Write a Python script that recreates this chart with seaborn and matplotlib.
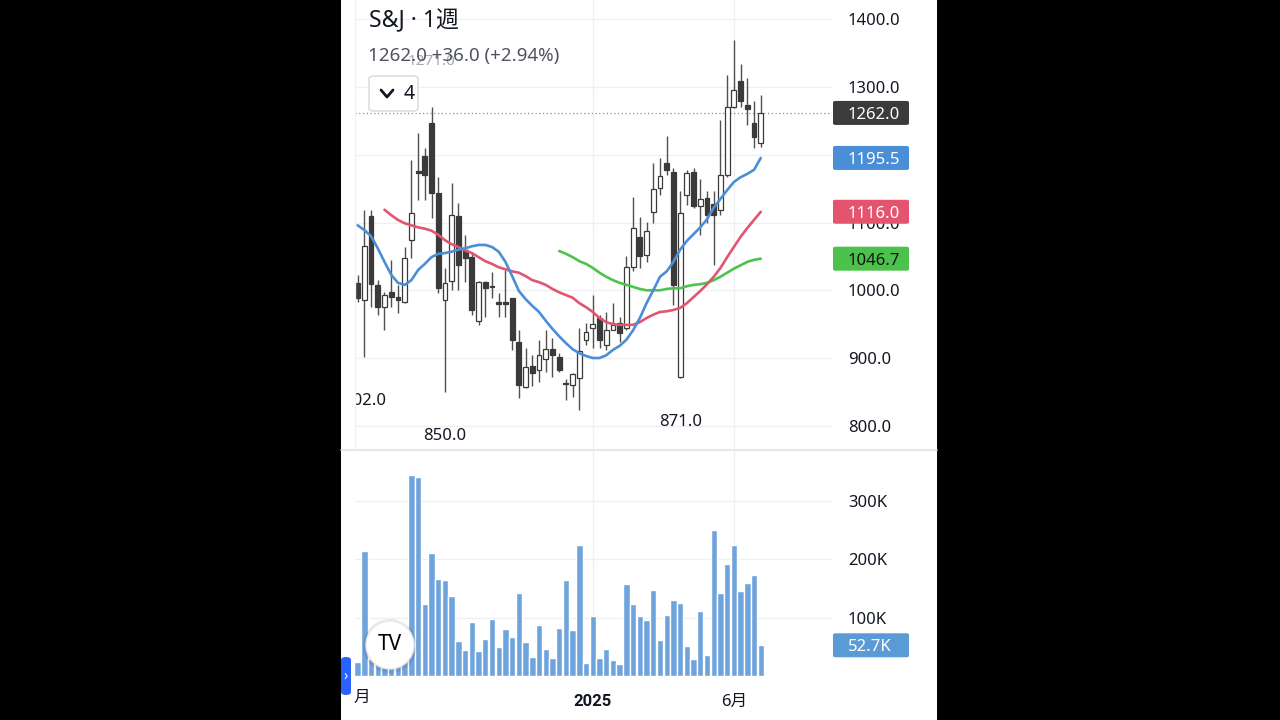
import numpy as np
import pandas as pd
import matplotlib.pyplot as plt
import matplotlib.patches as mpatches
from matplotlib.lines import Line2D
import seaborn as sns

# weekly candles (price in yen)
weeks = np.arange(1, 62)
opens = [1011, 986, 1110, 1008, 976, 998, 990, 983, 1074, 1176, 1198, 1247, 1144, 985, 1014, 1110,
         1060, 1049, 954, 1013, 1005, 982, 983, 989, 924, 857, 888, 882, 898, 914, 901, 862,
         860, 870, 926, 945, 959, 919, 942, 952, 944, 1035, 1078, 1052, 1115, 1151, 1188, 1175,
         872, 1141, 1175, 1124, 1137, 1127, 1119, 1170, 1271, 1309, 1273, 1247, 1217]
highs = [1023, 1119, 1119, 1015, 998, 1045, 1008, 1064, 1192, 1232, 1210, 1271, 1168, 1033, 1158, 1129,
         1082, 1055, 1014, 1014, 1027, 996, 1030, 989, 941, 915, 905, 927, 941, 929, 907, 869,
         878, 944, 952, 993, 964, 968, 981, 961, 1050, 1138, 1109, 1101, 1188, 1195, 1228, 1180,
         1146, 1178, 1181, 1165, 1146, 1146, 1252, 1318, 1370, 1335, 1313, 1279, 1288]
lows = [983, 902, 976, 964, 941, 976, 967, 981, 1048, 1133, 1133, 1107, 996, 850, 1000, 1000,
        1013, 964, 949, 961, 989, 961, 961, 912, 841, 855, 858, 865, 880, 872, 880, 838,
        843, 823, 919, 915, 915, 912, 941, 924, 941, 1028, 1033, 1042, 1099, 1141, 1170, 978,
        871, 1126, 1121, 1082, 1099, 1037, 1111, 1168, 1269, 1271, 1244, 1210, 1212]
closes = [989, 1066, 1009, 976, 993, 990, 985, 1048, 1114, 1174, 1170, 1144, 1003, 1011, 1111, 1037,
          1048, 971, 1013, 1003, 1007, 980, 980, 927, 860, 887, 878, 905, 914, 905, 882, 861,
          876, 911, 939, 950, 927, 941, 949, 937, 1035, 1092, 1050, 1087, 1149, 1169, 1177, 1008,
          1114, 1173, 1124, 1135, 1111, 1111, 1170, 1271, 1296, 1279, 1268, 1226, 1262]

# volume in thousands
volume_k = [24, 214, 30, 42, 38, 50, 35, 55, 344, 341, 124, 211, 167, 165, 137, 60,
            45, 92, 43, 63, 97, 50, 81, 67, 142, 58, 32, 87, 46, 31, 82, 165,
            79, 224, 23, 103, 31, 46, 27, 20, 158, 124, 103, 96, 147, 62, 105, 130,
            125, 51, 29, 112, 36, 250, 142, 192, 224, 145, 160, 174, 52.7]

# moving averages (13 / 26 / 52 weeks)
ma13 = [1096, 1089, 1080, 1062, 1042, 1023, 1011, 1008, 1015, 1030, 1039, 1049, 1054, 1055, 1057, 1060,
        1062, 1065, 1067, 1067, 1064, 1057, 1042, 1021, 999, 987, 977, 968, 955, 943, 932, 922,
        913, 907, 903, 900, 900, 904, 912, 918, 927, 941, 959, 981, 1000, 1020, 1028, 1042,
        1060, 1073, 1083, 1093, 1105, 1122, 1135, 1148, 1160, 1167, 1172, 1178, 1195.5]
ma26 = [None] * 4 + [1119, 1111, 1104, 1099, 1096, 1093, 1091, 1088, 1082, 1074, 1068, 1064,
                     1059, 1055, 1049, 1043, 1039, 1034, 1031, 1028, 1026, 1021, 1015, 1012,
                     1008, 1002, 997, 993, 989, 981, 975, 968, 959, 953, 950, 949,
                     949, 949, 953, 959, 964, 968, 969, 971, 974, 981, 990, 999,
                     1009, 1020, 1033, 1049, 1064, 1079, 1092, 1104, 1116]
ma52 = [None] * 30 + [1058, 1054, 1049, 1043, 1039, 1033, 1026, 1020, 1015, 1011, 1008, 1005,
                      1002, 1000, 1000, 1000, 1002, 1003, 1003, 1006, 1008, 1009, 1011, 1015,
                      1020, 1026, 1032, 1037, 1042, 1045, 1046.7]

price_ticks = [800, 900, 1000, 1100, 1200, 1300, 1400]
vol_ticks = [100, 200, 300]
vol_tick_labels = ['100K', '200K', '300K']
x_ticks = [36, 57]
x_tick_labels = ['2025', '6月']

last_close, prev_close = closes[-1], closes[-2]

df = pd.DataFrame({'week': weeks, 'open': opens, 'high': highs, 'low': lows, 'close': closes,
                   'vol': volume_k, 'ma13': ma13, 'ma26': ma26, 'ma52': ma52})
df[['ma26', 'ma52']] = df[['ma26', 'ma52']].astype(float)

sns.set_theme(style='white')
plt.rcParams['font.family'] = ['Noto Sans', 'Noto Sans CJK JP', 'DejaVu Sans']

W, H = 1280, 720
fig = plt.figure(figsize=(12.8, 7.2), dpi=100, facecolor='black')


def fx(px):
    return px / W


def fy(py):
    return 1 - py / H


# white phone screen
fig.add_artist(mpatches.Rectangle((fx(341), 0), fx(937) - fx(341), 1, transform=fig.transFigure,
                                  facecolor='white', edgecolor='none', zorder=-5))

ax = fig.add_axes([fx(355), fy(449), fx(832) - fx(355), 449 / H])
axv = fig.add_axes([fx(355), fy(676), fx(832) - fx(355), (676 - 451) / H])
TXT = '#131722'
GRID = '#eef0f4'

# candles
up = df['close'] >= df['open']
body_lo = np.minimum(df['open'], df['close'])
body_h = np.maximum(np.abs(df['close'] - df['open']), 1.5)
ax.vlines(df['week'], df['low'], df['high'], color='#505050', lw=1.0, zorder=2)
ax.bar(df['week'], body_h, bottom=body_lo, width=0.72,
       color=np.where(up, 'white', '#3a3a3a'), edgecolor='#3a3a3a', linewidth=0.9, zorder=3)

# moving averages
for col, c in [('ma52', '#4cc44c'), ('ma26', '#e2556f'), ('ma13', '#4a8fd6')]:
    sns.lineplot(data=df.dropna(subset=[col]), x='week', y=col, color=c, lw=1.9, ax=ax, zorder=4)

ax.axhline(last_close, color='#8a8d96', lw=0.9, ls=(0, (1, 2)), zorder=1)
ax.set_xlim(0.61, 71.6)
ax.set_ylim(765.6, 1428.8)
ax.set_yticks(price_ticks)
ax.set_yticklabels([f'{t:.1f}' for t in price_ticks])
ax.yaxis.tick_right()
ax.tick_params(axis='y', length=0, pad=11.5, labelsize=12, labelcolor=TXT)
ax.set_xticks(x_ticks)
ax.tick_params(axis='x', length=0, labelbottom=False)
ax.grid(True, color=GRID, lw=1)
ax.set_xlabel('')
ax.set_ylabel('')
for s in ax.spines.values():
    s.set_visible(False)

# high / low markers
ax.text(2, 836, '902.0', ha='center', va='center', fontsize=12, color=TXT, clip_on=True)
ax.text(14, 785, '850.0', ha='center', va='center', fontsize=12, color=TXT)
ax.text(49, 805.5, '871.0', ha='center', va='center', fontsize=12, color=TXT)
ax.text(12, 1338, '1271.0', ha='center', va='center', fontsize=11, color='#9598a1', alpha=0.85)

# volume
sns.barplot(x=df['week'], y=df['vol'], native_scale=True, color='#6fa3dc', saturation=1,
            width=0.95, errorbar=None, ax=axv)
axv.set_xlim(0.61, 71.6)
axv.set_ylim(0, 386)
axv.set_yticks(vol_ticks)
axv.set_yticklabels(vol_tick_labels)
axv.yaxis.tick_right()
axv.tick_params(axis='y', length=0, pad=11.5, labelsize=12, labelcolor=TXT)
axv.set_xticks(x_ticks)
axv.set_xticklabels(x_tick_labels)
axv.tick_params(axis='x', length=0, pad=13, labelsize=12, labelcolor=TXT)
for lab in axv.get_xticklabels():
    if lab.get_text() == '2025':
        lab.set_fontweight('bold')
        lab.set_fontfamily(['Roboto', 'DejaVu Sans'])
axv.grid(True, color=GRID, lw=1)
axv.set_xlabel('')
axv.set_ylabel('')
for s in axv.spines.values():
    s.set_visible(False)
fig.text(fx(362), fy(698), '月', ha='center', va='center', fontsize=12, color=TXT)

# pane separator
fig.add_artist(Line2D([fx(341), fx(937)], [fy(449.5), fy(449.5)], color='#e0e3eb', lw=1.2,
                      transform=fig.transFigure))
fig.add_artist(Line2D([fx(355), fx(355)], [fy(449), 1], color='#f2f3f6', lw=1,
                      transform=fig.transFigure))

# value tags on the right scale
inv = fig.transFigure.inverted()


def tag(axis, value, label, fc, tc='white'):
    yf = inv.transform(axis.transData.transform((0, value)))[1]
    h = 24 / H
    fig.add_artist(mpatches.FancyBboxPatch((fx(833), yf - h / 2), fx(909) - fx(833), h,
                                           boxstyle='round,pad=0,rounding_size=0.002',
                                           transform=fig.transFigure, facecolor=fc,
                                           edgecolor='none', zorder=5))
    fig.text(fx(848), yf, label, ha='left', va='center_baseline', fontsize=12, color=tc, zorder=6)


tag(ax, last_close, f'{last_close:.1f}', '#3b3b3b')
tag(ax, ma13[-1], f'{ma13[-1]:.1f}', '#4a8fd6')
tag(ax, ma26[-1], f'{ma26[-1]:.1f}', '#e5546f')
tag(ax, ma52[-1], f'{ma52[-1]:.1f}', '#4cc24c', '#111111')
tag(axv, volume_k[-1], f'{volume_k[-1]:.1f}K', '#5b9bd5')

# header
chg = last_close - prev_close
fig.text(fx(369), fy(21), 'S&J · 1週', ha='left', va='center', fontsize=16.5, color=TXT)
fig.text(fx(368), fy(56), f'{last_close:.1f} +{chg:.1f} (+{chg / prev_close * 100:.2f}%)',
         ha='left', va='center', fontsize=13.5, color='#50535e')
fig.add_artist(mpatches.FancyBboxPatch((fx(369), fy(111)), fx(418) - fx(369), 35 / H,
                                       boxstyle='round,pad=0,rounding_size=0.004',
                                       transform=fig.transFigure, facecolor='white',
                                       edgecolor='#d6d8de', lw=1, zorder=5))
fig.add_artist(Line2D([fx(381), fx(387), fx(393)], [fy(90), fy(97), fy(90)], color=TXT, lw=2,
                      transform=fig.transFigure, zorder=6))
fig.text(fx(404), fy(94), '4', ha='left', va='center', fontsize=14, color=TXT, zorder=6)

# TradingView badge and side tab
fig.add_artist(mpatches.Ellipse((fx(390), fy(646)), 54 / W, 54 / H, transform=fig.transFigure,
                                facecolor='#000000', alpha=0.08, edgecolor='none', zorder=5))
fig.add_artist(mpatches.Ellipse((fx(390), fy(645)), 48 / W, 48 / H, transform=fig.transFigure,
                                facecolor='white', edgecolor='#e8e8e8', zorder=6))
fig.text(fx(390), fy(645), 'TV', ha='center', va='center', fontsize=15, fontweight='heavy',
         color='black', zorder=7)
fig.add_artist(mpatches.FancyBboxPatch((fx(341), fy(695)), fx(351) - fx(341), 38 / H,
                                       boxstyle='round,pad=0,rounding_size=0.004',
                                       transform=fig.transFigure, facecolor='#2962ff',
                                       edgecolor='none', zorder=6))
fig.text(fx(346), fy(677), '›', ha='center', va='center', fontsize=10, color='white', zorder=7)

fig.savefig('out.png', dpi=100, facecolor='black')
